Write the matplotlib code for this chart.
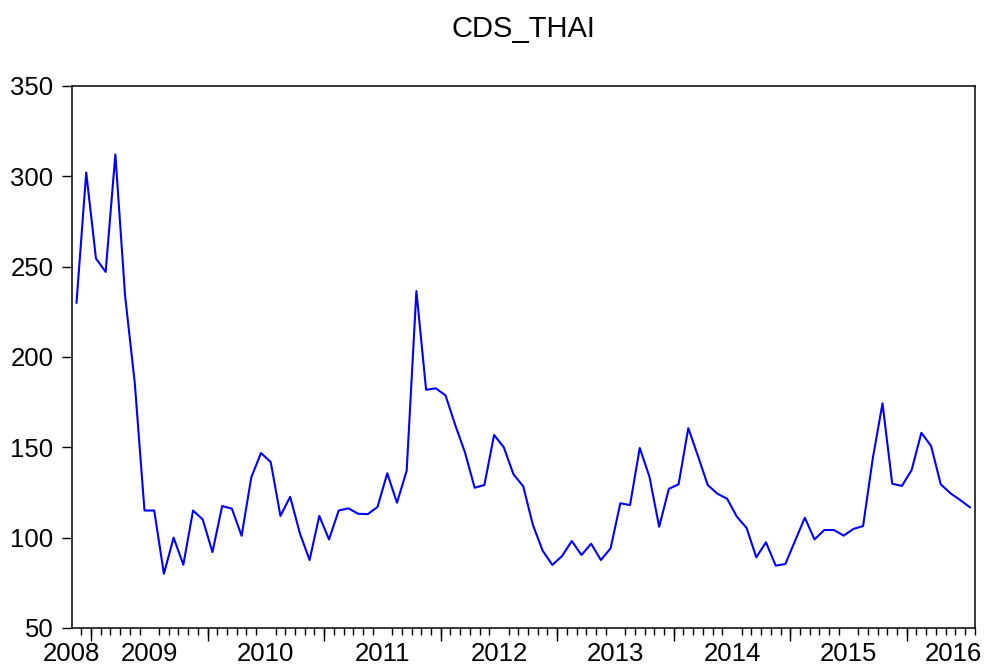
import matplotlib.pyplot as plt
import matplotlib.transforms as mtransforms
import numpy as np

# monthly CDS spread, 2008M11 .. 2016M07
cds_thai = [
    230, 302, 254.5, 247, 312, 234, 185.5, 115, 115, 80,
    100, 85, 115, 110, 92, 117.5, 116, 101, 133.4, 146.8,
    141.8, 112, 122.6, 102.4, 87.6, 112, 99, 115, 116.2, 113.2,
    113, 117, 135.6, 119.3, 137, 236.4, 181.8, 182.6, 178.7, 162.3,
    147.2, 127.6, 129.1, 156.8, 150, 135, 128.4, 107, 92.8, 84.9,
    89.8, 98.1, 90.4, 96.6, 87.6, 94.1, 119, 118, 149.6, 133.7,
    106, 127, 129.5, 160.6, 145.1, 129.1, 124.3, 121.5, 111.6, 105.4,
    89.1, 97.4, 84.5, 85.4, 98.3, 111, 99, 104.2, 104.2, 101.1,
    104.8, 106.4, 143.9, 174.3, 129.8, 128.6, 137.4, 158, 150.7, 129.5,
    124.5, 120.8, 116.8,
]
years = ["2008", "2009", "2010", "2011", "2012", "2013", "2014", "2015", "2016"]

plt.rcParams["font.family"] = ["Liberation Sans", "DejaVu Sans"]

n = len(cds_thai)
x = np.arange(n)

fig = plt.figure(figsize=(9.87, 6.70), dpi=100)
ax = fig.add_axes([0.0726, 0.0627, 0.915, 0.8093])
ax.plot(x, cds_thai, color="#0000ff", linewidth=1.5)

ax.set_xlim(-0.5, n - 0.5)
ax.set_ylim(50, 350)
ax.set_yticks([50, 100, 150, 200, 250, 300, 350])
ax.tick_params(axis="y", direction="out", length=7, width=1.0,
               labelsize=18.5, pad=6)

# year labels centred on each year (ends pulled inside the frame)
year_starts = np.arange(1.5, n, 12)
label_pos = [-0.5] + list(year_starts[:-1] + 6) + [90.3]
ax.set_xticks(label_pos)
ax.set_xticklabels(years)
ax.tick_params(axis="x", which="major", length=0, labelsize=18.5, pad=10)

# months = short ticks
ax.set_xticks(np.arange(-0.5, n, 1), minor=True)
ax.tick_params(axis="x", which="minor", direction="out", length=5, width=1.0)

# year boundaries = long ticks
trans = mtransforms.blended_transform_factory(ax.transData, ax.transAxes)
ax.vlines(year_starts, -0.024, 0, transform=trans, color="black",
          linewidth=1.0, clip_on=False)

for s in ax.spines.values():
    s.set_linewidth(1.1)

ax.set_title("CDS_THAI", fontsize=21, pad=35)

fig.savefig("out.png", dpi=100)
